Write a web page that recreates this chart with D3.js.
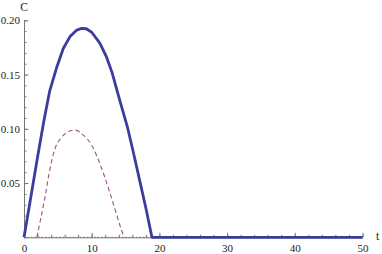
<!DOCTYPE html>
<html lang="en">
<head>
<meta charset="utf-8">
<title>C(t)</title>
<script src="https://cdnjs.cloudflare.com/ajax/libs/d3/7.8.5/d3.min.js"></script>
<style>
  body { margin: 0; background: #fff; }
  svg text { font-family: "Liberation Serif", "DejaVu Serif", serif !important; }
</style>
</head>
<body>
<script>
// solid curve
var solidT = [0, 0.9, 1.9, 2.9, 3.8, 4.8, 5.8, 6.8, 7.8, 8.5, 9.2, 10.0, 11.2, 12.2, 13.0, 14.2, 15.3, 16.2, 17.1, 18.0, 18.9, 50];
var solidC = [0, 0.033, 0.070, 0.106, 0.135, 0.156, 0.174, 0.185, 0.191, 0.1925, 0.1922, 0.189, 0.179, 0.166, 0.152, 0.125, 0.101, 0.077, 0.052, 0.027, 0, 0];
// dashed curve
var dashT = [1.9, 2.5, 3.1, 3.8, 4.6, 5.6, 6.8, 7.5, 8.8, 10.0, 11.2, 12.4, 13.4, 14.4, 14.8];
var dashC = [0, 0.018, 0.037, 0.062, 0.082, 0.0925, 0.098, 0.0988, 0.094, 0.085, 0.068, 0.0466, 0.0267, 0.0067, 0];
// third curve sits on zero
var zeroT = [0, 50];
var zeroC = [0, 0];

var xTicks = [0, 10, 20, 30, 40, 50];
var yTicks = [0.05, 0.10, 0.15, 0.20];

var width = 382, height = 254;

var svg = d3.select("body").append("svg")
    .attr("width", width)
    .attr("height", height);

var x = d3.scaleLinear().domain([0, 50]).range([24, 362.5]);
var y = d3.scaleLinear().domain([0, 0.2]).range([237.3, 20.3]);

var axisColor = "#777";
var serif = "'Liberation Serif', 'DejaVu Serif', serif";

function minor(lo, hi, step) {
    var out = [];
    for (var v = lo; v <= hi + 1e-9; v += step) out.push(+v.toFixed(4));
    return out;
}

// minor ticks
svg.append("g")
    .attr("transform", "translate(0," + y(0) + ")")
    .call(d3.axisBottom(x).tickValues(minor(0, 50, 2)).tickSize(-2.5).tickFormat(""))
    .call(function(g) { g.select(".domain").remove(); });
svg.append("g")
    .attr("transform", "translate(" + x(0) + ",0)")
    .call(d3.axisLeft(y).tickValues(minor(0, 0.2, 0.01)).tickSize(-2.5).tickFormat(""))
    .call(function(g) { g.select(".domain").remove(); });

// major axes
svg.append("g")
    .attr("transform", "translate(0," + y(0) + ")")
    .call(d3.axisBottom(x).tickValues(xTicks).tickSize(-4.5).tickSizeOuter(0).tickPadding(6.5).tickFormat(d3.format("d")));
svg.append("g")
    .attr("transform", "translate(" + x(0) + ",0)")
    .call(d3.axisLeft(y).tickValues(yTicks).tickSize(-4.5).tickSizeOuter(0).tickPadding(4).tickFormat(d3.format(".2f")));

svg.selectAll("g").attr("font-family", serif);
svg.selectAll(".tick line").attr("stroke", axisColor);
svg.selectAll(".domain").attr("stroke", axisColor);
svg.selectAll(".tick text")
    .style("font-family", serif)
    .attr("font-size", 11)
    .attr("fill", "#222");

var line = d3.line()
    .x(function(d) { return x(d[0]); })
    .y(function(d) { return y(d[1]); })
    .curve(d3.curveMonotoneX);

svg.append("path")
    .datum(d3.zip(zeroT, zeroC))
    .attr("d", line)
    .attr("fill", "none")
    .attr("stroke", "#6f7d4a")
    .attr("stroke-width", 1)
    .attr("stroke-dasharray", "1.5,2");

svg.append("path")
    .datum(d3.zip(dashT, dashC))
    .attr("d", line)
    .attr("fill", "none")
    .attr("stroke", "#a0508a")
    .attr("stroke-width", 1.1)
    .attr("stroke-dasharray", "4.5,3");

svg.append("path")
    .datum(d3.zip(solidT, solidC))
    .attr("d", line.curve(d3.curveLinear))
    .attr("fill", "none")
    .attr("stroke", "#3c3c9c")
    .attr("stroke-width", 2.8)
    .attr("stroke-linejoin", "round");

// axis labels
svg.append("text")
    .attr("x", x(0))
    .attr("y", 11)
    .attr("text-anchor", "middle")
    .style("font-family", serif)
    .attr("font-size", 11.5)
    .attr("fill", "#222")
    .text("C");
svg.append("text")
    .attr("x", 376)
    .attr("y", 240)
    .style("font-family", serif)
    .attr("font-size", 11.5)
    .attr("fill", "#222")
    .text("t");
</script>
</body>
</html>
